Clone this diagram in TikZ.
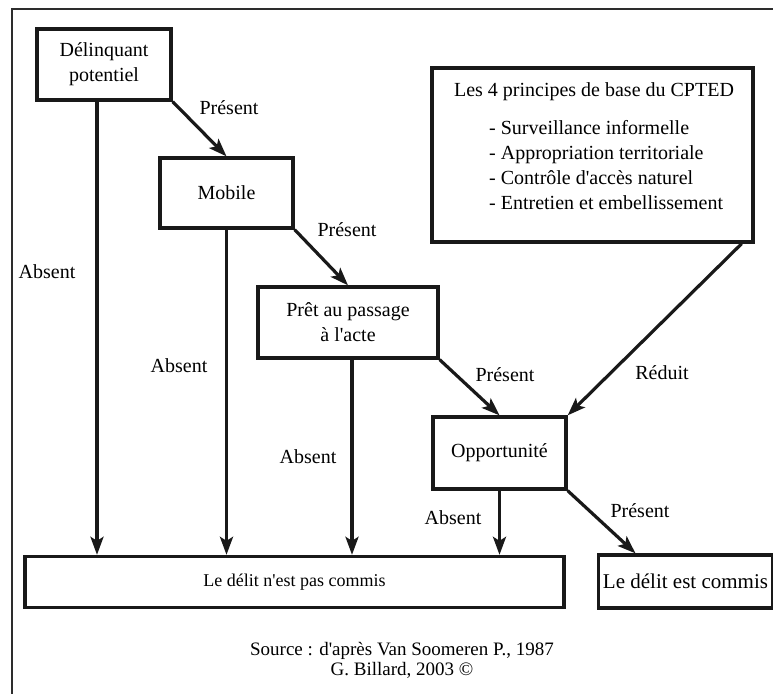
\documentclass[tikz,border=0pt]{standalone}
\usepackage{fontspec}
\setmainfont{Liberation Serif}
\usepackage{tikz}
\usetikzlibrary{arrows.meta,positioning}
\definecolor{trait}{RGB}{25,25,25}
\definecolor{cadre}{RGB}{45,45,45}
\tikzstyle{etape}=[draw=trait,line width=3.3pt,rectangle,inner sep=0pt,align=center,font=\fontsize{20}{25}\selectfont]
\tikzstyle{etiq}=[inner sep=0pt,font=\fontsize{20}{25}\selectfont]
\tikzstyle{fleche}=[draw=trait,line width=3.2pt,-{Stealth[length=18pt,width=13pt,inset=4pt]}]

\begin{document}
\begin{tikzpicture}[x=1pt,y=1pt]
\clip (0,0) rectangle (773,-693);
% cadre
\draw[line width=2.4pt,draw=cadre] (12,-9) rectangle (800,-720);

% etapes
\node[etape,minimum width=134pt,minimum height=71pt] (deli) at (104,-64.5) {Délinquant\\potentiel};
\node[etape,minimum width=133pt,minimum height=70pt] (mobile) at (226.5,-193) {Mobile};
\node[etape,minimum width=180pt,minimum height=71pt] (pret) at (348,-322.5) {Prêt au passage\\à l\textquotesingle acte};
\node[etape,minimum width=133pt,minimum height=72pt] (opp) at (499.5,-453) {Opportunité};
\node[etape,minimum width=539pt,minimum height=51pt,font=\fontsize{18}{22}\selectfont] (nonc) at (294.5,-582) {Le délit n\textquotesingle est pas commis};
\node[etape,minimum width=174pt,minimum height=53pt,font=\fontsize{21}{25}\selectfont] (commis) at (685.5,-581.5) {Le délit est commis};

% CPTED
\node[etape,minimum width=321pt,minimum height=174pt] (cpted) at (592.5,-155) {};
\node[etiq] (titre) at (594,-92) {Les 4 principes de base du CPTED};
\node[etiq,align=left,anchor=west] (liste) at (489,-165.5) {- Surveillance informelle\\- Appropriation territoriale\\- Contrôle d\textquotesingle accès naturel\\- Entretien et embellissement};

% points de depart
\coordinate (d1) at ([xshift=-7pt]deli.south);
\coordinate (d3) at ([xshift=4pt]pret.south);
\coordinate (c1) at ([xshift=-13pt]cpted.south east);
\coordinate (e1) at ([xshift=-50pt]commis.north);

% fleches Present
\draw[fleche] (deli.south east) -- (mobile.north);
\draw[fleche] (mobile.south east) -- (pret.north);
\draw[fleche] (pret.south east) -- (opp.north);
\draw[fleche] (c1) -- (opp.north east);
\draw[fleche] (opp.south east) -- (e1);

% fleches Absent
\draw[fleche] (d1) -- (d1 |- nonc.north);
\draw[fleche] (mobile.south) -- (mobile.south |- nonc.north);
\draw[fleche] (d3) -- (d3 |- nonc.north);
\draw[fleche] (opp.south) -- (opp.south |- nonc.north);

% etiquettes
\node[etiq] (p1) at (229,-108) {Présent};
\node[etiq] (p2) at (347,-230) {Présent};
\node[etiq] (p3) at (505,-375) {Présent};
\node[etiq] (p4) at (640,-511) {Présent};
\node[etiq] (red) at (662,-373) {Réduit};
\node[etiq] (a1) at (47,-272) {Absent};
\node[etiq] (a2) at (179,-366) {Absent};
\node[etiq] (a3) at (308,-457) {Absent};
\node[etiq] (a4) at (453,-518) {Absent};

% source
\node[etiq,align=center,font=\fontsize{19}{20}\selectfont] (source) at (402,-660) {Source : d\textquotesingle après Van Soomeren P., 1987\\G. Billard, 2003 ©};
\end{tikzpicture}
\end{document}
